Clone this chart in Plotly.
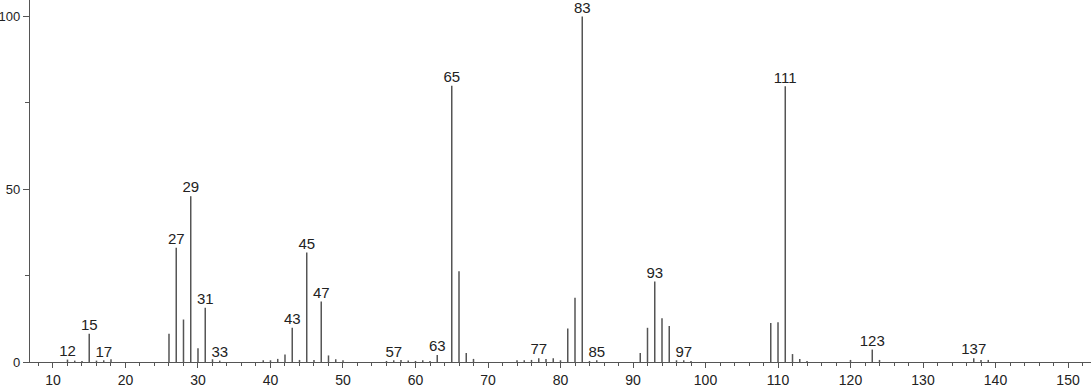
import plotly.graph_objects as go

mz = [12, 13, 14, 15, 16, 17, 18, 26, 27, 28, 29, 30, 31, 32, 33,
      39, 40, 41, 42, 43, 44, 45, 46, 47, 48, 49, 50,
      56, 57, 58, 59, 60, 61, 62, 63, 65, 66, 67, 68,
      74, 75, 76, 77, 78, 79, 80, 81, 82, 83, 84, 85,
      91, 92, 93, 94, 95, 96, 97, 98,
      109, 110, 111, 112, 113, 114, 120, 123, 124, 137, 138, 139]
intensity = [0.7, 0.4, 0.3, 8.2, 0.4, 0.5, 0.8, 8.2, 33.1, 12.3, 48.0, 4.0, 15.7, 0.8, 0.4,
             0.5, 0.5, 0.9, 2.2, 9.9, 0.6, 31.7, 0.6, 17.5, 1.9, 0.8, 0.5,
             0.3, 0.5, 0.6, 0.4, 0.3, 0.5, 0.3, 2.0, 80.0, 26.3, 2.6, 0.9,
             0.5, 0.5, 0.6, 1.1, 0.9, 1.1, 0.5, 9.7, 18.6, 100.0, 0.3, 0.5,
             2.6, 9.9, 23.3, 12.7, 10.4, 0.5, 0.5, 0.3,
             11.3, 11.5, 79.8, 2.3, 0.9, 0.3, 0.6, 3.6, 0.6, 1.1, 0.6, 0.6]
labeled = [12, 15, 17, 27, 29, 31, 33, 43, 45, 47, 57, 63, 65, 77, 83, 85,
           93, 97, 111, 123, 137]

x_tick_vals = [10, 20, 30, 40, 50, 60, 70, 80, 90, 100, 110, 120, 130, 140, 150]
y_tick_vals = [0, 50, 100]

# stick spectrum built from the data
xs, ys = [], []
for m, v in zip(mz, intensity):
    xs += [m, m, None]
    ys += [0, v, None]

lab_x = [m for m in mz if m in labeled]
lab_y = [v for m, v in zip(mz, intensity) if m in labeled]

FONT = "Liberation Sans, Arial"

fig = go.Figure()
fig.add_trace(go.Scatter(x=xs, y=ys, mode="lines",
                         line=dict(color="#555555", width=1.5),
                         hoverinfo="skip", showlegend=False))
fig.add_trace(go.Scatter(x=lab_x, y=lab_y, mode="text",
                         text=[str(m) for m in lab_x],
                         textposition="top center",
                         textfont=dict(family=FONT, size=15, color="#222222"),
                         showlegend=False))

fig.update_layout(
    width=1091, height=387,
    margin=dict(l=30, r=0, t=0, b=25),
    paper_bgcolor="white", plot_bgcolor="white",
    font=dict(family=FONT, size=14, color="#222222"),
    xaxis=dict(range=[6.83, 153.17], tickvals=x_tick_vals, showgrid=False, zeroline=False,
               automargin=False, tickfont=dict(size=14),
               showline=True, linecolor="#555555", linewidth=1.3,
               ticks="outside", ticklen=5, tickcolor="#555555", tickwidth=1.2,
               minor=dict(dtick=2, tick0=0, ticks="outside", ticklen=2.5, tickcolor="#555555"),
               ticklabelstandoff=0),
    yaxis=dict(range=[0, 104.8], tickvals=y_tick_vals, showgrid=False, zeroline=False,
               automargin=False, tickfont=dict(size=13),
               showline=True, linecolor="#555555", linewidth=1.3,
               ticks="outside", ticklen=6, tickcolor="#555555", tickwidth=1.2,
               minor=dict(tickvals=[25, 75], ticks="outside", ticklen=4, tickcolor="#555555"),
               ticklabelstandoff=0),
)

fig.write_html("out.html")
